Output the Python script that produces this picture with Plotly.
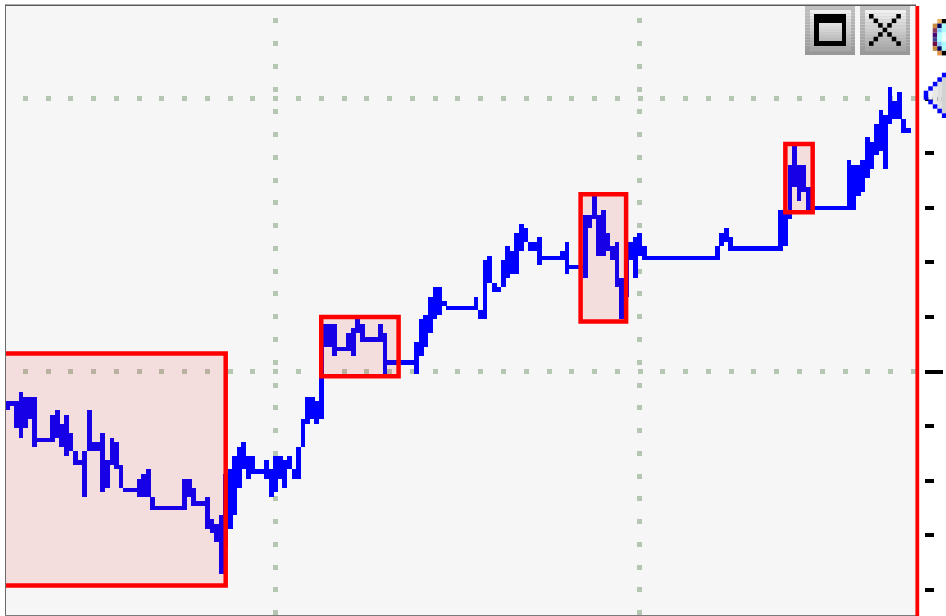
import plotly.graph_objects as go

# ---- series (levels, higher = up) ----
HIGH = [47,47,47,49,48,48,48,39,39,39,
        44,45,42,44,40,36,34,36,45,38,
        38,40,34,39,38,33,28,28,28,30,
        31,32,26,24,24,24,24,24,24,30,
        30,28,25,25,26,21,20,22,31,32,
        35,37,38,35,35,32,32,34,32,35,
        35,34,35,32,37,43,48,48,47,64,
        64,64,64,59,59,62,63,65,64,61,
        61,61,64,62,56,56,56,56,56,56,
        60,65,66,70,72,72,69,68,68,68,
        68,68,68,70,67,78,79,73,72,78,
        81,80,84,86,85,82,82,83,79,79,
        79,79,80,82,77,77,77,88,88,92,
        88,89,84,81,82,74,79,82,83,84,
        81,79,79,79,79,79,79,79,79,79,
        79,79,79,79,79,79,81,84,85,83,
        81,81,81,81,81,81,81,81,81,81,
        89,89,99,103,99,99,94,90,90,90,
        90,90,90,90,90,100,99,99,100,105,
        104,108,111,110,116,113,115,109,107]
LOW = [45,46,41,39,41,43,37,38,38,38,
       38,39,37,35,36,33,33,26,36,36,
       36,27,28,33,32,28,27,27,27,26,
       26,26,23,23,23,23,23,23,23,23,
       26,24,24,24,19,18,16,9,15,19,
       22,28,32,30,31,31,31,30,26,27,
       30,28,32,30,30,37,42,43,42,43,
       59,59,57,58,58,58,57,62,60,60,
       60,60,60,53,55,55,55,55,55,55,
       53,57,59,62,65,66,68,67,67,67,
       67,67,67,67,65,65,73,71,71,72,
       74,75,75,80,82,80,80,77,78,78,
       78,78,78,75,76,76,76,74,85,87,
       79,79,80,78,72,65,70,78,74,79,
       78,78,78,78,78,78,78,78,78,78,
       78,78,78,78,78,78,78,81,82,80,
       80,80,80,80,80,80,80,80,80,80,
       80,81,87,94,91,93,89,89,89,89,
       89,89,89,89,89,89,89,92,93,96,
       98,101,102,98,108,109,109,106,106]
ZONE_START = [-3, 69, 126, 171]
ZONE_END = [48, 86, 136, 177]
ZONE_HIGH = [57.5, 65.5, 92.5, 103.5]
ZONE_LOW = [6.5, 52.5, 64.5, 88.5]
MAJOR_LEVELS = [53.5, 113.5]
MINOR_LEVELS = [5.5, 17.5, 29.5, 41.5, 65.5, 77.5, 89.5, 101.5]
TIME_GRID = [59, 139]

W, H = 946, 616
PX = 4.55
BLUE = "#0000ff"
RED = "#ff0000"
GRID = "#b5c7b3"

fig = go.Figure()
fig.add_trace(go.Bar(
    x=list(range(len(HIGH))),
    y=[h - l for h, l in zip(HIGH, LOW)],
    base=LOW,
    width=1.06,
    marker=dict(color=BLUE, line=dict(width=0)),
    hoverinfo="skip",
))

shapes = []

def rect(x0, y0, x1, y1, color):
    shapes.append(dict(type="rect", xref="paper", yref="paper",
                       x0=x0 / W, x1=x1 / W, y0=1 - y1 / H, y1=1 - y0 / H,
                       fillcolor=color, line=dict(width=0), layer="above"))

def grey(v):
    return "rgb(%d,%d,%d)" % (v, v, v)

def vgrad(x0, y0, x1, y1, top, bottom, step=3.0):
    n = max(1, int((y1 - y0) / step))
    for i in range(n):
        rect(x0, y0 + (y1 - y0) * i / n, x1, y0 + (y1 - y0) * (i + 1) / n,
             grey(round(top + (bottom - top) * i / max(1, n - 1))))

# highlighted zones (translucent, drawn over the series)
for s, e, h, l in zip(ZONE_START, ZONE_END, ZONE_HIGH, ZONE_LOW):
    shapes.append(dict(type="rect", xref="x", yref="y", x0=s, x1=e, y0=l, y1=h,
                       fillcolor="rgba(225,0,0,0.1)",
                       line=dict(color=RED, width=4.5), layer="above"))

# frame and right-hand limit line
rect(5, 4.6, 916, 6, "#5a5a5a")
rect(5, 4.6, 6, 616, "#6a6a6a")
rect(5, 615, 916, 616, "#7a7a7a")
rect(915.4, 6, 919.2, 616, RED)

# window buttons
for bx in (805, 860):
    vgrad(bx, 6, bx + 50, 55, 192, 152)
    vgrad(bx + 5, 10, bx + 46, 51, 240, 168)
rect(814, 14, 846, 46, "#000000")
vgrad(819, 23, 842, 41, 224, 188)
for i in range(7):
    for j in {i, 6 - i}:
        rect(869 + PX * j, 14 + PX * i, 869 + PX * (j + 1), 14 + PX * (i + 1), "#000000")

# small round icon, cut off by the edge of the page
ICON = [[None, "#f0b060", "#000000"],
        ["#c88c40", "#000060", "#aaffff"],
        ["#8b3a5a", "#88ccff", "#aaffff"],
        ["#4a0a70", "#aaffff", "#e0ffff"],
        ["#404090", "#aaffff", "#e8ffff"],
        ["#700a40", "#88ccff", "#aaffff"],
        ["#c88c40", "#000060", "#aaffff"],
        [None, "#e09040", "#000000"]]
for r, row in enumerate(ICON):
    for c, col in enumerate(row):
        if col:
            rect(932.7 + PX * c, 19 + PX * r, 932.7 + PX * (c + 1), 19 + PX * (r + 1), col)

# price marker arrow on the right, in blocky pixels
STAIR = [(4, 72.7, 77.3), (3, 77.3, 81.8), (2, 81.8, 86.3), (1, 86.3, 90.7),
         (0, 90.7, 99.7), (1, 99.7, 104.3), (2, 104.3, 108.7), (3, 108.7, 113.3), (4, 113.3, 118)]
SHADE = [0, 240, 232, 222, 210]
for c in range(1, 5):
    x = 923.7 + PX * c
    rect(x, 90.7 - PX * (c - 1), x + PX, 99.7 + PX * (c - 1), grey(SHADE[c]))
for c, y0, y1 in STAIR:
    x = 923.7 + PX * c
    rect(x, y0, x + PX, y1, BLUE)

fig.update_layout(
    width=W, height=H,
    margin=dict(l=0, r=0, t=0, b=0),
    paper_bgcolor="#ffffff",
    plot_bgcolor="#f6f6f6",
    showlegend=False,
    hovermode=False,
    bargap=0,
    shapes=shapes,
    xaxis=dict(
        domain=[6 / W, 915.5 / W],
        range=[-0.28, 199.6],
        tickmode="array", tickvals=TIME_GRID,
        showticklabels=False, ticks="",
        showgrid=True, gridcolor=GRID, gridwidth=5,
        griddash="0px,12.2px,5px,5.57px",
        showline=False, zeroline=False, fixedrange=True,
    ),
    yaxis=dict(
        domain=[1 / H, 610 / H],
        range=[0, 133.85],
        anchor="free", position=924 / W, side="right",
        tickmode="array", tickvals=MAJOR_LEVELS,
        showticklabels=False,
        ticks="outside", ticklen=18, tickwidth=4, tickcolor="#000000",
        showgrid=True, gridcolor=GRID, gridwidth=5,
        griddash="0px,16.8px,5px,0.97px",
        minor=dict(tickmode="array", tickvals=MINOR_LEVELS, ticks="outside",
                   ticklen=9, tickwidth=4, tickcolor="#000000", showgrid=False),
        showline=False, zeroline=False, fixedrange=True,
    ),
)

fig.write_html(
    "out.html",
    config=dict(displayModeBar=False, staticPlot=True),
    post_script="document.body.style.margin='0';document.documentElement.style.overflow='hidden';",
)
